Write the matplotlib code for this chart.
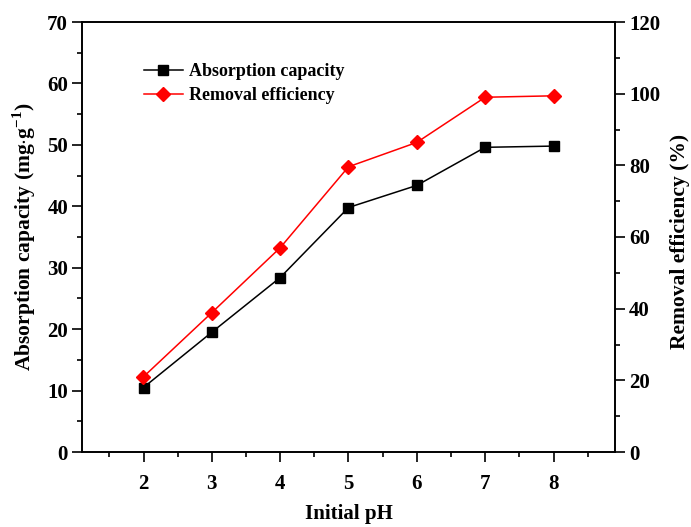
import matplotlib
matplotlib.use("Agg")
import matplotlib.pyplot as plt
from matplotlib.ticker import MultipleLocator

plt.rcParams['font.family'] = ['Liberation Serif', 'DejaVu Serif']
plt.rcParams['font.weight'] = 'bold'
plt.rcParams['mathtext.fontset'] = 'custom'
plt.rcParams['mathtext.rm'] = 'Liberation Serif:bold'
plt.rcParams['mathtext.bf'] = 'Liberation Serif:bold'

ph = [2, 3, 4, 5, 6, 7, 8]
absorption = [10.5, 19.5, 28.4, 39.8, 43.4, 49.6, 49.8]
removal = [21.0, 38.9, 57.0, 79.6, 86.4, 99.0, 99.4]

W, H = 691, 527
fig = plt.figure(figsize=(W / 100, H / 100), dpi=100)
x0, x1, y0, y1 = 82, 615, 452, 22
ax = fig.add_axes([x0 / W, 1 - y0 / H, (x1 - x0) / W, (y0 - y1) / H])
ax2 = ax.twinx()

l1, = ax.plot(ph, absorption, color='black', marker='s', markersize=7.5, lw=1.1,
              label='Absorption capacity')
l2, = ax2.plot(ph, removal, color='red', marker='D', markersize=7.5, lw=1.1,
               label='Removal efficiency')

ax.set_xlim(1.1, 8.9)
ax.set_ylim(0, 70)
ax2.set_ylim(0, 120)
ax.set_xticks(ph)
ax.xaxis.set_minor_locator(MultipleLocator(0.5))
ax.yaxis.set_major_locator(MultipleLocator(10))
ax.yaxis.set_minor_locator(MultipleLocator(5))
ax2.yaxis.set_major_locator(MultipleLocator(20))
ax2.yaxis.set_minor_locator(MultipleLocator(10))

for a in (ax, ax2):
    a.tick_params(which='major', direction='out', length=7, width=1.2, labelsize=15, pad=3)
    a.tick_params(which='minor', direction='out', length=3.5, width=1.2)
    for s in a.spines.values():
        s.set_linewidth(1.2)
ax.tick_params(axis='x', pad=9)

aw, ah = x1 - x0, y0 - y1
ax.set_xlabel('Initial pH', fontsize=15, fontweight='bold', va='center')
ax.xaxis.set_label_coords(0.5, (y0 - 514) / ah)
ax.set_ylabel(r'Absorption capacity (mg$\cdot$g$^{-1}$)', fontsize=15.5, fontweight='bold',
              va='center')
ax.yaxis.set_label_coords((24 - x0) / aw, 0.5)
ax2.set_ylabel('Removal efficiency (%)', fontsize=15.5, fontweight='bold', va='center')
ax2.yaxis.set_label_coords((680 - x0) / aw, 0.49)

ax.legend(handles=[l1, l2], loc='upper left', bbox_to_anchor=(0.085, 0.942),
          frameon=False, handlelength=2.2, handletextpad=0.3,
          labelspacing=0.4, prop={'weight': 'bold', 'size': 13})

fig.savefig('out.png', dpi=100)
